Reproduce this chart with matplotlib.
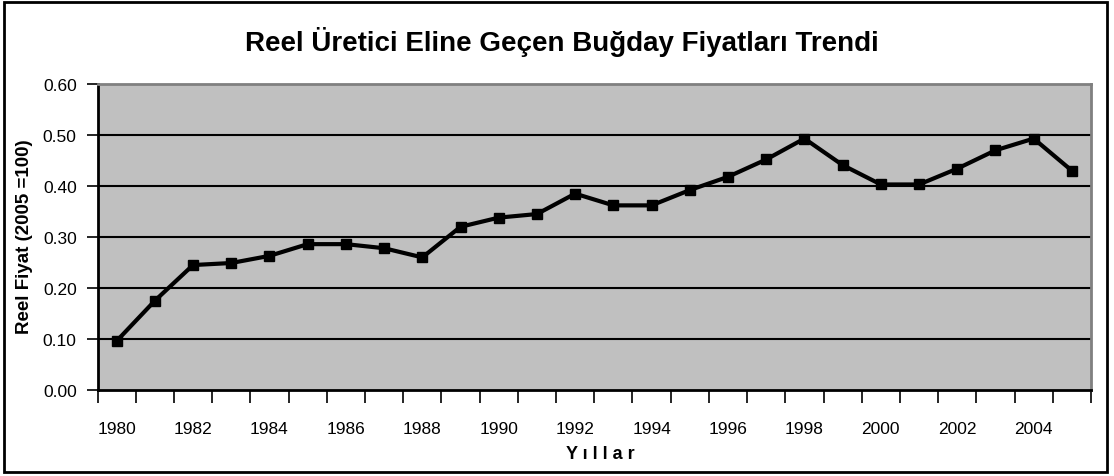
import matplotlib.pyplot as plt
from matplotlib.patches import Rectangle

years = list(range(1980, 2006))
prices = [0.096, 0.175, 0.245, 0.249, 0.263, 0.286, 0.286, 0.278, 0.260, 0.320,
          0.338, 0.345, 0.385, 0.362, 0.362, 0.392, 0.418, 0.452, 0.493, 0.441,
          0.403, 0.403, 0.434, 0.470, 0.493, 0.430]
y_ticks = [0.0, 0.1, 0.2, 0.3, 0.4, 0.5, 0.6]

font = ['Liberation Sans', 'DejaVu Sans']

fig = plt.figure(figsize=(11.14, 4.77), dpi=100)
fig.patch.set_facecolor('white')

# chart border
fig.patches.append(Rectangle((4 / 1114, 4 / 477), 1103 / 1114, 470 / 477,
                             transform=fig.transFigure, fill=False,
                             edgecolor='black', linewidth=2))

ax = fig.add_axes([97.5 / 1114, (477 - 391) / 477, 993.5 / 1114, 306 / 477])
ax.set_facecolor('#c0c0c0')

x = list(range(len(years)))
for v in y_ticks[1:-1]:
    ax.axhline(v, color='black', linewidth=1.5, zorder=1)

ax.plot(x, prices, color='black', linewidth=3, marker='s', markersize=7.5,
        zorder=3)

ax.set_xlim(-0.5, len(years) - 0.5)
ax.set_ylim(0, 0.6)

ax.set_yticks(y_ticks)
ax.set_yticklabels([f"{v:.2f}" for v in y_ticks], family=font, fontsize=12.5)
ax.tick_params(axis='y', length=8, width=1.2, pad=7)

ax.set_xticks([i - 0.5 for i in range(len(years) + 1)])
ax.set_xticklabels([])
ax.set_xticks(x[::2], minor=True)
ax.set_xticklabels([str(y) for y in years[::2]], minor=True,
                   family=font, fontsize=12.5)
ax.tick_params(axis='x', which='major', length=9, width=1.2)
ax.tick_params(axis='x', which='minor', length=0, pad=22)

for side in ['left', 'bottom']:
    ax.spines[side].set_linewidth(2)
    ax.spines[side].set_color('black')
for side in ['top', 'right']:
    ax.spines[side].set_linewidth(2)
    ax.spines[side].set_color('#808080')

fig.text(562 / 1114, 1 - 42 / 477, "Reel Üretici Eline Geçen Buğday Fiyatları Trendi",
         ha='center', va='center', fontsize=20, fontweight='bold', family=font)
fig.text(25 / 1114, 1 - 237 / 477, "Reel Fiyat (2005 =100)", rotation=90,
         ha='center', va='center', fontsize=13.5, fontweight='bold', family=font)
fig.text(600 / 1114, 1 - 455 / 477, "Y ı l l a r", ha='center', va='center',
         fontsize=13, fontweight='bold', family=font)

plt.savefig("out.png", dpi=100)
plt.close()
